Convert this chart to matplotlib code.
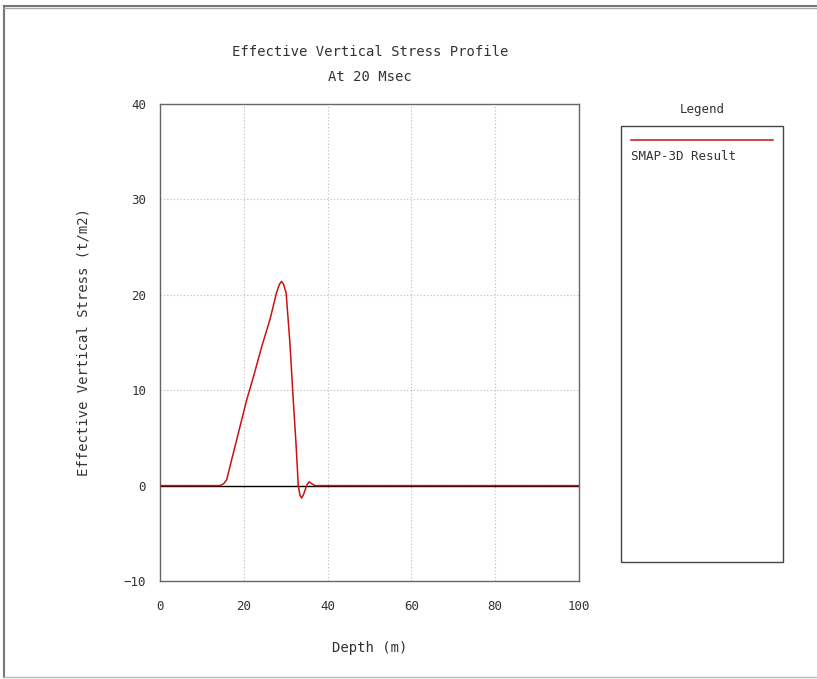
import matplotlib
matplotlib.use("Agg")
import matplotlib.pyplot as plt
from matplotlib.patches import Rectangle
from matplotlib.lines import Line2D

# Effective vertical stress profile at 20 msec
depth = [0.0, 14.3, 15.2, 15.9, 17.1, 18.7, 20.7, 22.3, 24.3, 26.3, 27.8,
         28.5, 29.0, 29.5, 30.1, 31.0, 31.8, 32.5, 33.0, 33.4, 33.8, 34.2,
         34.6, 35.1, 35.6, 36.2, 37.0, 100.0]
stress = [0.0, 0.0, 0.2, 0.6, 2.7, 5.5, 9.0, 11.4, 14.6, 17.5, 20.2,
          21.1, 21.4, 21.1, 20.2, 15.0, 9.0, 4.1, 0.0, -1.0, -1.3, -1.0,
          -0.5, 0.1, 0.4, 0.2, 0.0, 0.0]

x_ticks = [0, 20, 40, 60, 80, 100]
y_ticks = [-10, 0, 10, 20, 30, 40]
series_name = "SMAP-3D Result"

W, H = 817, 679
fig = plt.figure(figsize=(W / 100, H / 100), dpi=100)
FONT = "DejaVu Sans Mono"
TXT = "#333333"

def fx(px):
    return px / W

def fy(py):
    return 1 - py / H

# window frame
fig.add_artist(Line2D([fx(4), fx(4)], [fy(6), fy(677)], color="#777777", lw=1.5))
fig.add_artist(Line2D([fx(4), fx(817)], [fy(6), fy(6)], color="#777777", lw=1.5))
fig.add_artist(Line2D([fx(4), fx(817)], [fy(8), fy(8)], color="#aaaaaa", lw=1.0))
fig.add_artist(Line2D([fx(4), fx(817)], [fy(677), fy(677)], color="#bbbbbb", lw=1.0))

ax = fig.add_axes([fx(160), fy(581), fx(579) - fx(160), fy(104) - fy(581)])
ax.set_xlim(0, 100)
ax.set_ylim(-10, 40)
ax.set_xticks(x_ticks)
ax.set_yticks(y_ticks)
ax.tick_params(axis="x", length=0, pad=14, labelsize=9, labelcolor=TXT)
ax.tick_params(axis="y", length=0, pad=10, labelsize=9, labelcolor=TXT)
for lab in ax.get_xticklabels() + ax.get_yticklabels():
    lab.set_fontfamily(FONT)
for s in ax.spines.values():
    s.set_color("#666666")
    s.set_linewidth(1.0)
ax.grid(True, color="#bbbbbb", linestyle=(0, (1, 2)), linewidth=0.8)

ax.plot([0, 100], [0, 0], color="black", lw=1.0, zorder=2)
ax.plot(depth, stress, color="#cc1111", lw=1.1, zorder=3)

ax.set_xlabel("Depth (m)", fontsize=10, family=FONT, color=TXT, labelpad=20)
ax.set_ylabel("Effective Vertical Stress (t/m2)", fontsize=10, family=FONT,
              color=TXT, labelpad=24)

fig.text(fx(370), fy(52), "Effective Vertical Stress Profile", ha="center",
         va="center", fontsize=10, family=FONT, color=TXT)
fig.text(fx(370), fy(77), "At 20 Msec", ha="center", va="center",
         fontsize=10, family=FONT, color=TXT)

# legend panel
fig.add_artist(Rectangle((fx(621), fy(562)), fx(783) - fx(621), fy(126) - fy(562),
                         fill=False, edgecolor="#444444", lw=1.0))
fig.text(fx(702), fy(109), "Legend", ha="center", va="center", fontsize=9,
         family=FONT, color=TXT)
fig.add_artist(Line2D([fx(631), fx(773)], [fy(140), fy(140)], color="#cc1111", lw=1.1))
fig.text(fx(631), fy(157), series_name, ha="left", va="center", fontsize=9,
         family=FONT, color=TXT)

fig.savefig("out.png", dpi=100)
